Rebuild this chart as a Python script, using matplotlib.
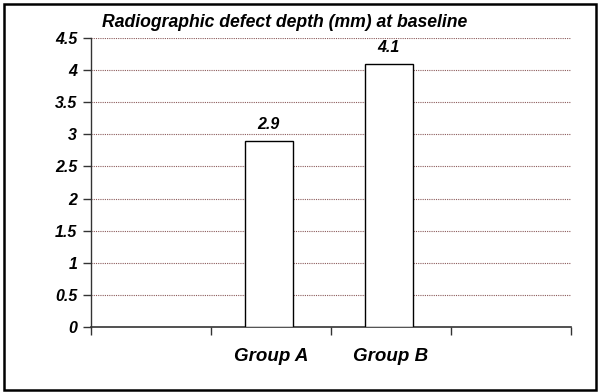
import matplotlib
matplotlib.use("Agg")
import matplotlib.pyplot as plt
from matplotlib.patches import Rectangle

categories = ["", "Group A", "Group B", ""]
values = [None, 2.9, 4.1, None]
yticks = [0, 0.5, 1, 1.5, 2, 2.5, 3, 3.5, 4, 4.5]
ytick_labels = ["0", "0.5", "1", "1.5", "2", "2.5", "3", "3.5", "4", "4.5"]
title = "Radiographic defect depth (mm) at baseline"

plt.rcParams['font.family'] = ['Liberation Sans', 'DejaVu Sans']

fig = plt.figure(figsize=(6, 3.92), dpi=100)
ax = fig.add_axes([91/600, 1-327/392, 480/600, 289/392])

xs = list(range(len(categories)))
for x, v in zip(xs, values):
    if v is None:
        continue
    ax.bar(x - 0.02, v, width=0.4, color="white", edgecolor="black", linewidth=1.0, zorder=3)
    ax.text(x - 0.02, v + 0.13, f"{v}", ha="center", va="bottom", fontsize=11.5,
            fontweight="bold", fontstyle="italic", zorder=4)

ax.set_xlim(-0.5, len(categories) - 0.5)
ax.set_ylim(0, 4.5)
ax.set_yticks(yticks)
ax.set_yticklabels(ytick_labels, fontsize=11.5, fontweight="bold", fontstyle="italic")
ax.set_xticks(xs)
ax.set_xticklabels(categories, fontsize=13.5, fontweight="bold", fontstyle="italic")
ax.set_xticks([i - 0.5 for i in range(len(categories) + 1)], minor=True)
ax.tick_params(axis="x", which="major", length=0, pad=15)
ax.tick_params(axis="x", which="minor", length=6, width=1.0, direction="out", color="#333333")
ax.tick_params(axis="y", length=6, width=1.0, direction="out", color="#333333", pad=4)

for y in yticks[1:]:
    ax.axhline(y, color="#8B5A5A", linestyle=(0, (1, 1)), linewidth=0.8, zorder=1)

for s in ["top", "right"]:
    ax.spines[s].set_visible(False)
ax.spines["left"].set_color("#333333")
ax.spines["bottom"].set_color("#333333")
ax.spines["left"].set_linewidth(1.0)
ax.spines["bottom"].set_linewidth(1.2)

fig.text(102/600, 1-27/392, title, fontsize=12.7, fontweight="bold", fontstyle="italic",
         ha="left", va="baseline")

fig.patches.append(Rectangle((0.006, 0.006), 0.988, 0.985, transform=fig.transFigure,
                             fill=False, edgecolor="black", linewidth=1.8))

fig.savefig("out.png", dpi=100)
